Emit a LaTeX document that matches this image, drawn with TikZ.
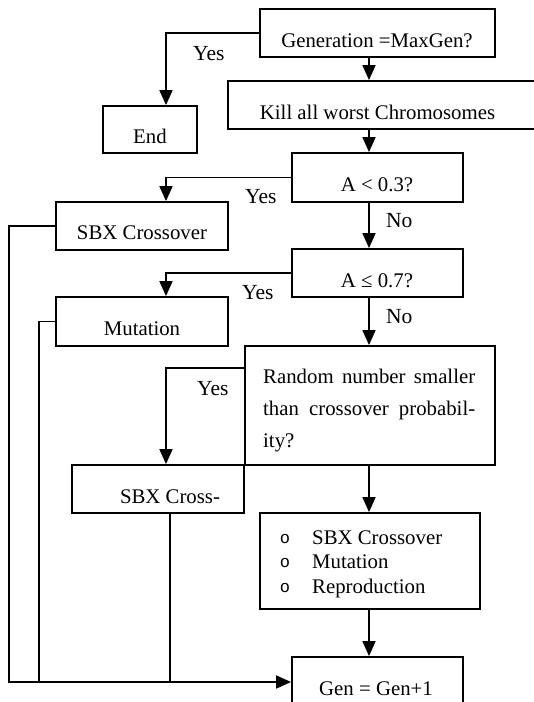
\documentclass[tikz,border=0pt]{standalone}
\usepackage{fontspec}
\setmainfont{Liberation Serif}
\newfontfamily\bulletfont{Liberation Mono}
\usetikzlibrary{arrows.meta,calc}
\tikzset{
  box/.style={draw, line width=1.8pt, rectangle, inner sep=0pt},
  conn/.style={line width=1.7pt},
  arr/.style={line width=1.7pt, -{Triangle[length=15pt,width=13pt]}},
  txt/.style={inner sep=0pt, anchor=base, font=\fontsize{20.8}{24}\selectfont},
  lbl/.style={inner sep=0pt, anchor=base west, font=\fontsize{21.5}{24}\selectfont},
  bul/.style={inner sep=0pt, anchor=base, font=\fontsize{17}{20}\bulletfont},
}
\begin{document}
\begin{tikzpicture}[x=1pt,y=-1pt]
\useasboundingbox (0,0) rectangle (534,702);
\clip (0,0) rectangle (534,702);
\coordinate (ycol) at (166,0);
\coordinate (mcol) at (369,0);
\coordinate (lcol1) at (9,0);
\coordinate (lcol2) at (39,0);
\coordinate (scol) at (170,0);
% boxes
\node[box, minimum width=235pt, minimum height=48pt] (gen) at (377.5,33) {};
\node[box, minimum width=332pt, minimum height=48pt] (kill) at (394,105) {};
\node[box, minimum width=94pt, minimum height=47pt] (end) at (150,129.5) {};
\node[box, minimum width=171pt, minimum height=49pt] (a03) at (377.5,177.5) {};
\node[box, minimum width=172pt, minimum height=48pt] (sbx) at (142,226) {};
\node[box, minimum width=171pt, minimum height=48pt] (a07) at (377.5,273) {};
\node[box, minimum width=172pt, minimum height=49pt] (mut) at (142,321.5) {};
\node[box, minimum width=250pt, minimum height=119pt] (rand) at (370,405.5) {};
\node[box, minimum width=172pt, minimum height=48pt] (sbxc) at (158,489) {};
\node[box, minimum width=220pt, minimum height=96pt] (ops) at (370,561) {};
\node[box, minimum width=171pt, minimum height=50pt] (gg) at (377.5,682) {};
% texts
\node[txt] (tgen) at (377,47) {Generation =MaxGen?};
\node[txt] (tkill) at (377.5,119) {Kill all worst Chromosomes};
\node[txt] (tend) at (150,143) {End};
\node[txt] (ta03) at (377,191) {A < 0.3?};
\node[txt] (tsbx) at (142,239) {SBX Crossover};
\node[txt] (ta07) at (377,287) {A \char"2264\ 0.7?};
\node[txt] (tmut) at (142,335) {Mutation};
\node[txt, anchor=base west] (tr1) at (263,383) {\makebox[212pt][s]{Random number smaller}};
\node[txt, anchor=base west] (tr2) at (263,415) {\makebox[212pt][s]{than crossover probabil-}};
\node[txt, anchor=base west] (tr3) at (263,447) {ity?};
\node[txt] (tsbxc) at (170,503) {SBX Cross-};
\node[bul] (b1) at (285,543) {o};
\node[bul] (b2) at (285,567) {o};
\node[bul] (b3) at (285,592) {o};
\node[txt, anchor=base west] (o1) at (312,544) {SBX Crossover};
\node[txt, anchor=base west] (o2) at (312,568) {Mutation};
\node[txt, anchor=base west] (o3) at (312,593) {Reproduction};
\node[txt] (tgg) at (376,695) {Gen = Gen+1};
% labels
\node[lbl] (y1) at (193,60) {Yes};
\node[lbl] (y2) at (245,203) {Yes};
\node[lbl] (y3) at (242,299) {Yes};
\node[lbl] (y4) at (197,395) {Yes};
\node[lbl] (n1) at (386,227) {No};
\node[lbl] (n2) at (386,323) {No};
% connectors
\draw[arr] (gen.west) -| (ycol |- end.north);
\draw[arr] (mcol |- gen.south) -- (mcol |- kill.north);
\draw[arr] (mcol |- kill.south) -- (mcol |- a03.north);
\draw[arr] (a03.west) -| (ycol |- sbx.north);
\draw[arr] (mcol |- a03.south) -- (mcol |- a07.north);
\draw[arr] (a07.west) -| (ycol |- mut.north);
\draw[arr] (mcol |- a07.south) -- (mcol |- rand.north);
\draw[arr] ($(rand.north west)+(0,23)$) -| (ycol |- sbxc.north);
\draw[arr] (mcol |- rand.south) -- (mcol |- ops.north);
\draw[arr] (mcol |- ops.south) -- (mcol |- gg.north);
\draw[arr] (sbx.west) -| (lcol1 |- gg.west) -- (gg.west);
\draw[conn] (mut.west) -| (lcol2 |- gg.west);
\draw[conn] (scol |- sbxc.south) -- (scol |- gg.west);
\end{tikzpicture}
\end{document}
